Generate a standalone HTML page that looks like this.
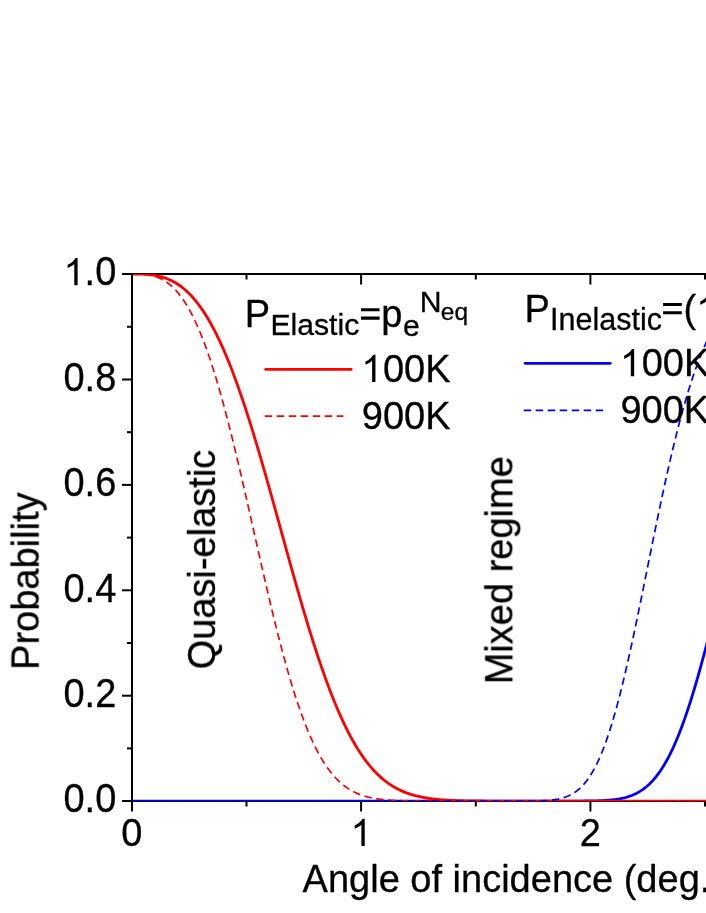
<!DOCTYPE html>
<html><head><meta charset="utf-8"><title>chart</title><style>html,body{margin:0;padding:0;background:#fff;overflow:hidden}</style></head><body><svg width="706" height="913" viewBox="0 0 706 913" style="display:block">
<rect width="706" height="913" fill="#fff"/>
<g stroke="#000" stroke-width="2" fill="none" stroke-linecap="butt">
<path d="M132,273 V811.5"/>
<path d="M122,274 H706"/>
<path d="M122,801 H706"/>
<path d="M122,379.5 H132"/>
<path d="M122,484.9 H132"/>
<path d="M122,590.3 H132"/>
<path d="M122,695.7 H132"/>
<path d="M127,326.8 H132"/>
<path d="M127,432.2 H132"/>
<path d="M127,537.6 H132"/>
<path d="M127,643.0 H132"/>
<path d="M127,748.4 H132"/>
<path d="M361.1,801 V811.5"/>
<path d="M361.1,274 V284.5"/>
<path d="M590.4,801 V811.5"/>
<path d="M590.4,274 V284.5"/>
<path d="M246.5,801 V806.5"/>
<path d="M246.5,274 V279.5"/>
<path d="M475.8,801 V806.5"/>
<path d="M475.8,274 V279.5"/>
<path d="M705.0,801 V806.5"/>
<path d="M705.0,274 V279.5"/>
</g>
<clipPath id="cp"><rect x="132.9" y="273.9" width="600" height="527.4"/></clipPath>
<g fill="none" stroke-linejoin="round" stroke-linecap="butt" clip-path="url(#cp)">
<path d="M131.90,801.10 L133.06,801.10 L134.21,801.10 L135.37,801.10 L136.52,801.10 L137.68,801.10 L138.83,801.10 L139.99,801.10 L141.14,801.10 L142.30,801.10 L143.45,801.10 L144.61,801.10 L145.77,801.10 L146.92,801.10 L148.08,801.10 L149.23,801.10 L150.39,801.10 L151.54,801.10 L152.70,801.10 L153.85,801.10 L155.01,801.10 L156.16,801.10 L157.32,801.10 L158.47,801.10 L159.63,801.10 L160.79,801.10 L161.94,801.10 L163.10,801.10 L164.25,801.10 L165.41,801.10 L166.56,801.10 L167.72,801.10 L168.87,801.10 L170.03,801.10 L171.18,801.10 L172.34,801.10 L173.50,801.10 L174.65,801.10 L175.81,801.10 L176.96,801.10 L178.12,801.10 L179.27,801.10 L180.43,801.10 L181.58,801.10 L182.74,801.10 L183.89,801.10 L185.05,801.10 L186.20,801.10 L187.36,801.10 L188.52,801.10 L189.67,801.10 L190.83,801.10 L191.98,801.10 L193.14,801.10 L194.29,801.10 L195.45,801.10 L196.60,801.10 L197.76,801.10 L198.91,801.10 L200.07,801.10 L201.23,801.10 L202.38,801.10 L203.54,801.10 L204.69,801.10 L205.85,801.10 L207.00,801.10 L208.16,801.10 L209.31,801.10 L210.47,801.10 L211.62,801.10 L212.78,801.10 L213.93,801.10 L215.09,801.10 L216.25,801.10 L217.40,801.10 L218.56,801.10 L219.71,801.10 L220.87,801.10 L222.02,801.10 L223.18,801.10 L224.33,801.10 L225.49,801.10 L226.64,801.10 L227.80,801.10 L228.96,801.10 L230.11,801.10 L231.27,801.10 L232.42,801.10 L233.58,801.10 L234.73,801.10 L235.89,801.10 L237.04,801.10 L238.20,801.10 L239.35,801.10 L240.51,801.10 L241.66,801.10 L242.82,801.10 L243.98,801.10 L245.13,801.10 L246.29,801.10 L247.44,801.10 L248.60,801.10 L249.75,801.10 L250.91,801.10 L252.06,801.10 L253.22,801.10 L254.37,801.10 L255.53,801.10 L256.69,801.10 L257.84,801.10 L259.00,801.10 L260.15,801.10 L261.31,801.10 L262.46,801.10 L263.62,801.10 L264.77,801.10 L265.93,801.10 L267.08,801.10 L268.24,801.10 L269.39,801.10 L270.55,801.10 L271.71,801.10 L272.86,801.10 L274.02,801.10 L275.17,801.10 L276.33,801.10 L277.48,801.10 L278.64,801.10 L279.79,801.10 L280.95,801.10 L282.10,801.10 L283.26,801.10 L284.42,801.10 L285.57,801.10 L286.73,801.10 L287.88,801.10 L289.04,801.10 L290.19,801.10 L291.35,801.10 L292.50,801.10 L293.66,801.10 L294.81,801.10 L295.97,801.10 L297.13,801.10 L298.28,801.10 L299.44,801.10 L300.59,801.10 L301.75,801.10 L302.90,801.10 L304.06,801.10 L305.21,801.10 L306.37,801.10 L307.52,801.10 L308.68,801.10 L309.83,801.10 L310.99,801.10 L312.15,801.10 L313.30,801.10 L314.46,801.10 L315.61,801.10 L316.77,801.10 L317.92,801.10 L319.08,801.10 L320.23,801.10 L321.39,801.10 L322.54,801.10 L323.70,801.10 L324.86,801.10 L326.01,801.10 L327.17,801.10 L328.32,801.10 L329.48,801.10 L330.63,801.10 L331.79,801.10 L332.94,801.10 L334.10,801.10 L335.25,801.10 L336.41,801.10 L337.56,801.10 L338.72,801.10 L339.88,801.10 L341.03,801.10 L342.19,801.10 L343.34,801.10 L344.50,801.10 L345.65,801.10 L346.81,801.10 L347.96,801.10 L349.12,801.10 L350.27,801.10 L351.43,801.10 L352.59,801.10 L353.74,801.10 L354.90,801.10 L356.05,801.10 L357.21,801.10 L358.36,801.10 L359.52,801.10 L360.67,801.10 L361.83,801.10 L362.98,801.10 L364.14,801.10 L365.29,801.10 L366.45,801.10 L367.61,801.10 L368.76,801.10 L369.92,801.10 L371.07,801.10 L372.23,801.10 L373.38,801.10 L374.54,801.10 L375.69,801.10 L376.85,801.10 L378.00,801.10 L379.16,801.10 L380.32,801.10 L381.47,801.10 L382.63,801.10 L383.78,801.10 L384.94,801.10 L386.09,801.10 L387.25,801.10 L388.40,801.10 L389.56,801.10 L390.71,801.10 L391.87,801.10 L393.02,801.10 L394.18,801.10 L395.34,801.10 L396.49,801.10 L397.65,801.10 L398.80,801.10 L399.96,801.10 L401.11,801.10 L402.27,801.10 L403.42,801.10 L404.58,801.10 L405.73,801.10 L406.89,801.10 L408.05,801.10 L409.20,801.10 L410.36,801.10 L411.51,801.10 L412.67,801.10 L413.82,801.10 L414.98,801.10 L416.13,801.10 L417.29,801.10 L418.44,801.10 L419.60,801.10 L420.75,801.10 L421.91,801.10 L423.07,801.10 L424.22,801.10 L425.38,801.10 L426.53,801.10 L427.69,801.10 L428.84,801.10 L430.00,801.10 L431.15,801.10 L432.31,801.10 L433.46,801.10 L434.62,801.10 L435.78,801.10 L436.93,801.10 L438.09,801.10 L439.24,801.10 L440.40,801.10 L441.55,801.10 L442.71,801.10 L443.86,801.10 L445.02,801.10 L446.17,801.10 L447.33,801.10 L448.49,801.10 L449.64,801.10 L450.80,801.10 L451.95,801.10 L453.11,801.10 L454.26,801.10 L455.42,801.10 L456.57,801.10 L457.73,801.10 L458.88,801.10 L460.04,801.10 L461.19,801.10 L462.35,801.10 L463.51,801.10 L464.66,801.10 L465.82,801.10 L466.97,801.10 L468.13,801.10 L469.28,801.10 L470.44,801.10 L471.59,801.10 L472.75,801.10 L473.90,801.10 L475.06,801.10 L476.22,801.10 L477.37,801.10 L478.53,801.10 L479.68,801.10 L480.84,801.10 L481.99,801.10 L483.15,801.10 L484.30,801.10 L485.46,801.10 L486.61,801.10 L487.77,801.10 L488.92,801.10 L490.08,801.10 L491.24,801.10 L492.39,801.10 L493.55,801.10 L494.70,801.10 L495.86,801.10 L497.01,801.10 L498.17,801.10 L499.32,801.10 L500.48,801.10 L501.63,801.10 L502.79,801.10 L503.95,801.10 L505.10,801.10 L506.26,801.10 L507.41,801.10 L508.57,801.10 L509.72,801.10 L510.88,801.10 L512.03,801.10 L513.19,801.10 L514.34,801.10 L515.50,801.10 L516.65,801.10 L517.81,801.10 L518.97,801.10 L520.12,801.10 L521.28,801.10 L522.43,801.10 L523.59,801.10 L524.74,801.10 L525.90,801.10 L527.05,801.10 L528.21,801.10 L529.36,801.10 L530.52,801.10 L531.68,801.10 L532.83,801.10 L533.99,801.10 L535.14,801.10 L536.30,801.10 L537.45,801.10 L538.61,801.10 L539.76,801.10 L540.92,801.10 L542.07,801.10 L543.23,801.10 L544.38,801.10 L545.54,801.10 L546.70,801.10 L547.85,801.10 L549.01,801.10 L550.16,801.10 L551.32,801.10 L552.47,801.10 L553.63,801.10 L554.78,801.10 L555.94,801.10 L557.09,801.10 L558.25,801.10 L559.41,801.10 L560.56,801.10 L561.72,801.10 L562.87,801.10 L564.03,801.10 L565.18,801.09 L566.34,801.09 L567.49,801.09 L568.65,801.09 L569.80,801.09 L570.96,801.09 L572.12,801.08 L573.27,801.08 L574.43,801.08 L575.58,801.08 L576.74,801.07 L577.89,801.07 L579.05,801.06 L580.20,801.06 L581.36,801.05 L582.51,801.04 L583.67,801.03 L584.82,801.02 L585.98,801.01 L587.14,801.00 L588.29,800.99 L589.45,800.97 L590.60,800.95 L591.76,800.94 L592.91,800.91 L594.07,800.89 L595.22,800.86 L596.38,800.83 L597.53,800.80 L598.69,800.76 L599.85,800.72 L601.00,800.67 L602.16,800.62 L603.31,800.56 L604.47,800.50 L605.62,800.43 L606.78,800.35 L607.93,800.27 L609.09,800.17 L610.24,800.07 L611.40,799.96 L612.55,799.84 L613.71,799.71 L614.87,799.56 L616.02,799.40 L617.18,799.23 L618.33,799.05 L619.49,798.85 L620.64,798.63 L621.80,798.39 L622.95,798.14 L624.11,797.86 L625.26,797.57 L626.42,797.25 L627.58,796.91 L628.73,796.54 L629.89,796.14 L631.04,795.72 L632.20,795.27 L633.35,794.79 L634.51,794.27 L635.66,793.73 L636.82,793.14 L637.97,792.52 L639.13,791.86 L640.28,791.16 L641.44,790.42 L642.60,789.63 L643.75,788.80 L644.91,787.92 L646.06,787.00 L647.22,786.02 L648.37,784.99 L649.53,783.91 L650.68,782.77 L651.84,781.58 L652.99,780.33 L654.15,779.01 L655.31,777.64 L656.46,776.20 L657.62,774.70 L658.77,773.13 L659.93,771.50 L661.08,769.80 L662.24,768.03 L663.39,766.18 L664.55,764.27 L665.70,762.28 L666.86,760.22 L668.01,758.09 L669.17,755.88 L670.33,753.59 L671.48,751.23 L672.64,748.79 L673.79,746.27 L674.95,743.68 L676.10,741.01 L677.26,738.26 L678.41,735.43 L679.57,732.53 L680.72,729.55 L681.88,726.49 L683.04,723.36 L684.19,720.15 L685.35,716.86 L686.50,713.50 L687.66,710.07 L688.81,706.57 L689.97,702.99 L691.12,699.35 L692.28,695.63 L693.43,691.85 L694.59,688.01 L695.74,684.10 L696.90,680.13 L698.06,676.09 L699.21,672.00 L700.37,667.86 L701.52,663.66 L702.68,659.40 L703.83,655.10 L704.99,650.75 L706.14,646.35 L707.30,641.91 L708.45,637.43 L709.61,632.91" stroke="#0000ff" stroke-width="2.8"/>
<path d="M131.90,274.10 L133.06,274.10 L134.21,274.10 L135.37,274.10 L136.52,274.11 L137.68,274.12 L138.83,274.14 L139.99,274.16 L141.14,274.18 L142.30,274.22 L143.45,274.26 L144.61,274.32 L145.77,274.38 L146.92,274.46 L148.08,274.55 L149.23,274.65 L150.39,274.77 L151.54,274.90 L152.70,275.05 L153.85,275.22 L155.01,275.40 L156.16,275.61 L157.32,275.84 L158.47,276.08 L159.63,276.35 L160.79,276.64 L161.94,276.96 L163.10,277.30 L164.25,277.67 L165.41,278.07 L166.56,278.49 L167.72,278.94 L168.87,279.42 L170.03,279.94 L171.18,280.48 L172.34,281.05 L173.50,281.66 L174.65,282.31 L175.81,282.98 L176.96,283.70 L178.12,284.45 L179.27,285.23 L180.43,286.06 L181.58,286.92 L182.74,287.83 L183.89,288.77 L185.05,289.76 L186.20,290.78 L187.36,291.85 L188.52,292.96 L189.67,294.12 L190.83,295.32 L191.98,296.56 L193.14,297.86 L194.29,299.19 L195.45,300.58 L196.60,302.01 L197.76,303.49 L198.91,305.01 L200.07,306.59 L201.23,308.21 L202.38,309.89 L203.54,311.61 L204.69,313.38 L205.85,315.21 L207.00,317.08 L208.16,319.01 L209.31,320.99 L210.47,323.02 L211.62,325.10 L212.78,327.23 L213.93,329.41 L215.09,331.65 L216.25,333.94 L217.40,336.28 L218.56,338.67 L219.71,341.11 L220.87,343.61 L222.02,346.16 L223.18,348.75 L224.33,351.40 L225.49,354.10 L226.64,356.85 L227.80,359.66 L228.96,362.51 L230.11,365.41 L231.27,368.36 L232.42,371.36 L233.58,374.41 L234.73,377.50 L235.89,380.64 L237.04,383.83 L238.20,387.07 L239.35,390.35 L240.51,393.67 L241.66,397.04 L242.82,400.45 L243.98,403.90 L245.13,407.39 L246.29,410.93 L247.44,414.50 L248.60,418.12 L249.75,421.77 L250.91,425.45 L252.06,429.17 L253.22,432.93 L254.37,436.72 L255.53,440.54 L256.69,444.39 L257.84,448.27 L259.00,452.18 L260.15,456.12 L261.31,460.08 L262.46,464.07 L263.62,468.08 L264.77,472.12 L265.93,476.17 L267.08,480.24 L268.24,484.34 L269.39,488.44 L270.55,492.57 L271.71,496.70 L272.86,500.85 L274.02,505.01 L275.17,509.18 L276.33,513.35 L277.48,517.53 L278.64,521.72 L279.79,525.91 L280.95,530.10 L282.10,534.29 L283.26,538.48 L284.42,542.67 L285.57,546.85 L286.73,551.03 L287.88,555.20 L289.04,559.36 L290.19,563.51 L291.35,567.65 L292.50,571.77 L293.66,575.88 L294.81,579.98 L295.97,584.06 L297.13,588.11 L298.28,592.15 L299.44,596.17 L300.59,600.16 L301.75,604.13 L302.90,608.07 L304.06,611.99 L305.21,615.88 L306.37,619.74 L307.52,623.56 L308.68,627.36 L309.83,631.12 L310.99,634.85 L312.15,638.55 L313.30,642.21 L314.46,645.83 L315.61,649.41 L316.77,652.96 L317.92,656.46 L319.08,659.93 L320.23,663.35 L321.39,666.73 L322.54,670.07 L323.70,673.36 L324.86,676.61 L326.01,679.81 L327.17,682.97 L328.32,686.08 L329.48,689.15 L330.63,692.17 L331.79,695.14 L332.94,698.06 L334.10,700.94 L335.25,703.77 L336.41,706.54 L337.56,709.27 L338.72,711.95 L339.88,714.58 L341.03,717.16 L342.19,719.69 L343.34,722.18 L344.50,724.61 L345.65,726.99 L346.81,729.32 L347.96,731.61 L349.12,733.84 L350.27,736.03 L351.43,738.16 L352.59,740.25 L353.74,742.29 L354.90,744.28 L356.05,746.22 L357.21,748.12 L358.36,749.97 L359.52,751.77 L360.67,753.53 L361.83,755.24 L362.98,756.90 L364.14,758.52 L365.29,760.10 L366.45,761.63 L367.61,763.12 L368.76,764.57 L369.92,765.98 L371.07,767.34 L372.23,768.67 L373.38,769.95 L374.54,771.20 L375.69,772.40 L376.85,773.57 L378.00,774.70 L379.16,775.80 L380.32,776.86 L381.47,777.88 L382.63,778.87 L383.78,779.83 L384.94,780.75 L386.09,781.64 L387.25,782.50 L388.40,783.33 L389.56,784.13 L390.71,784.90 L391.87,785.64 L393.02,786.35 L394.18,787.04 L395.34,787.70 L396.49,788.34 L397.65,788.95 L398.80,789.53 L399.96,790.09 L401.11,790.63 L402.27,791.15 L403.42,791.65 L404.58,792.12 L405.73,792.58 L406.89,793.01 L408.05,793.43 L409.20,793.83 L410.36,794.21 L411.51,794.57 L412.67,794.92 L413.82,795.25 L414.98,795.57 L416.13,795.87 L417.29,796.15 L418.44,796.43 L419.60,796.69 L420.75,796.94 L421.91,797.17 L423.07,797.40 L424.22,797.61 L425.38,797.81 L426.53,798.00 L427.69,798.19 L428.84,798.36 L430.00,798.52 L431.15,798.68 L432.31,798.83 L433.46,798.96 L434.62,799.10 L435.78,799.22 L436.93,799.34 L438.09,799.45 L439.24,799.55 L440.40,799.65 L441.55,799.75 L442.71,799.83 L443.86,799.92 L445.02,799.99 L446.17,800.07 L447.33,800.14 L448.49,800.20 L449.64,800.26 L450.80,800.32 L451.95,800.37 L453.11,800.42 L454.26,800.47 L455.42,800.51 L456.57,800.56 L457.73,800.59 L458.88,800.63 L460.04,800.66 L461.19,800.70 L462.35,800.72 L463.51,800.75 L464.66,800.78 L465.82,800.80 L466.97,800.82 L468.13,800.85 L469.28,800.86 L470.44,800.88 L471.59,800.90 L472.75,800.91 L473.90,800.93 L475.06,800.94 L476.22,800.96 L477.37,800.97 L478.53,800.98 L479.68,800.99 L480.84,801.00 L481.99,801.00 L483.15,801.01 L484.30,801.02 L485.46,801.03 L486.61,801.03 L487.77,801.04 L488.92,801.04 L490.08,801.05 L491.24,801.05 L492.39,801.06 L493.55,801.06 L494.70,801.06 L495.86,801.07 L497.01,801.07 L498.17,801.07 L499.32,801.08 L500.48,801.08 L501.63,801.08 L502.79,801.08 L503.95,801.08 L505.10,801.08 L506.26,801.09 L507.41,801.09 L508.57,801.09 L509.72,801.09 L510.88,801.09 L512.03,801.09 L513.19,801.09 L514.34,801.09 L515.50,801.09 L516.65,801.09 L517.81,801.09 L518.97,801.10 L520.12,801.10 L521.28,801.10 L522.43,801.10 L523.59,801.10 L524.74,801.10 L525.90,801.10 L527.05,801.10 L528.21,801.10 L529.36,801.10 L530.52,801.10 L531.68,801.10 L532.83,801.10 L533.99,801.10 L535.14,801.10 L536.30,801.10 L537.45,801.10 L538.61,801.10 L539.76,801.10 L540.92,801.10 L542.07,801.10 L543.23,801.10 L544.38,801.10 L545.54,801.10 L546.70,801.10 L547.85,801.10 L549.01,801.10 L550.16,801.10 L551.32,801.10 L552.47,801.10 L553.63,801.10 L554.78,801.10 L555.94,801.10 L557.09,801.10 L558.25,801.10 L559.41,801.10 L560.56,801.10 L561.72,801.10 L562.87,801.10 L564.03,801.10 L565.18,801.10 L566.34,801.10 L567.49,801.10 L568.65,801.10 L569.80,801.10 L570.96,801.10 L572.12,801.10 L573.27,801.10 L574.43,801.10 L575.58,801.10 L576.74,801.10 L577.89,801.10 L579.05,801.10 L580.20,801.10 L581.36,801.10 L582.51,801.10 L583.67,801.10 L584.82,801.10 L585.98,801.10 L587.14,801.10 L588.29,801.10 L589.45,801.10 L590.60,801.10 L591.76,801.10 L592.91,801.10 L594.07,801.10 L595.22,801.10 L596.38,801.10 L597.53,801.10 L598.69,801.10 L599.85,801.10 L601.00,801.10 L602.16,801.10 L603.31,801.10 L604.47,801.10 L605.62,801.10 L606.78,801.10 L607.93,801.10 L609.09,801.10 L610.24,801.10 L611.40,801.10 L612.55,801.10 L613.71,801.10 L614.87,801.10 L616.02,801.10 L617.18,801.10 L618.33,801.10 L619.49,801.10 L620.64,801.10 L621.80,801.10 L622.95,801.10 L624.11,801.10 L625.26,801.10 L626.42,801.10 L627.58,801.10 L628.73,801.10 L629.89,801.10 L631.04,801.10 L632.20,801.10 L633.35,801.10 L634.51,801.10 L635.66,801.10 L636.82,801.10 L637.97,801.10 L639.13,801.10 L640.28,801.10 L641.44,801.10 L642.60,801.10 L643.75,801.10 L644.91,801.10 L646.06,801.10 L647.22,801.10 L648.37,801.10 L649.53,801.10 L650.68,801.10 L651.84,801.10 L652.99,801.10 L654.15,801.10 L655.31,801.10 L656.46,801.10 L657.62,801.10 L658.77,801.10 L659.93,801.10 L661.08,801.10 L662.24,801.10 L663.39,801.10 L664.55,801.10 L665.70,801.10 L666.86,801.10 L668.01,801.10 L669.17,801.10 L670.33,801.10 L671.48,801.10 L672.64,801.10 L673.79,801.10 L674.95,801.10 L676.10,801.10 L677.26,801.10 L678.41,801.10 L679.57,801.10 L680.72,801.10 L681.88,801.10 L683.04,801.10 L684.19,801.10 L685.35,801.10 L686.50,801.10 L687.66,801.10 L688.81,801.10 L689.97,801.10 L691.12,801.10 L692.28,801.10 L693.43,801.10 L694.59,801.10 L695.74,801.10 L696.90,801.10 L698.06,801.10 L699.21,801.10 L700.37,801.10 L701.52,801.10 L702.68,801.10 L703.83,801.10 L704.99,801.10 L706.14,801.10 L707.30,801.10 L708.45,801.10 L709.61,801.10" stroke="#ff0000" stroke-width="2.8"/>
<path d="M131.90,274.10 L133.06,274.10 L134.21,274.10 L135.37,274.11 L136.52,274.12 L137.68,274.14 L138.83,274.16 L139.99,274.20 L141.14,274.25 L142.30,274.32 L143.45,274.40 L144.61,274.50 L145.77,274.62 L146.92,274.76 L148.08,274.92 L149.23,275.11 L150.39,275.33 L151.54,275.57 L152.70,275.85 L153.85,276.16 L155.01,276.50 L156.16,276.87 L157.32,277.29 L158.47,277.74 L159.63,278.23 L160.79,278.77 L161.94,279.35 L163.10,279.98 L164.25,280.65 L165.41,281.37 L166.56,282.14 L167.72,282.97 L168.87,283.85 L170.03,284.78 L171.18,285.77 L172.34,286.82 L173.50,287.92 L174.65,289.09 L175.81,290.32 L176.96,291.61 L178.12,292.97 L179.27,294.39 L180.43,295.88 L181.58,297.44 L182.74,299.06 L183.89,300.76 L185.05,302.53 L186.20,304.37 L187.36,306.28 L188.52,308.26 L189.67,310.32 L190.83,312.46 L191.98,314.67 L193.14,316.96 L194.29,319.32 L195.45,321.76 L196.60,324.27 L197.76,326.87 L198.91,329.54 L200.07,332.29 L201.23,335.12 L202.38,338.03 L203.54,341.01 L204.69,344.07 L205.85,347.21 L207.00,350.43 L208.16,353.72 L209.31,357.09 L210.47,360.53 L211.62,364.05 L212.78,367.64 L213.93,371.31 L215.09,375.05 L216.25,378.86 L217.40,382.74 L218.56,386.69 L219.71,390.71 L220.87,394.79 L222.02,398.94 L223.18,403.16 L224.33,407.43 L225.49,411.77 L226.64,416.16 L227.80,420.61 L228.96,425.12 L230.11,429.68 L231.27,434.29 L232.42,438.95 L233.58,443.66 L234.73,448.42 L235.89,453.21 L237.04,458.05 L238.20,462.92 L239.35,467.83 L240.51,472.77 L241.66,477.75 L242.82,482.75 L243.98,487.77 L245.13,492.82 L246.29,497.89 L247.44,502.98 L248.60,508.08 L249.75,513.20 L250.91,518.32 L252.06,523.45 L253.22,528.59 L254.37,533.72 L255.53,538.85 L256.69,543.98 L257.84,549.10 L259.00,554.22 L260.15,559.31 L261.31,564.40 L262.46,569.46 L263.62,574.51 L264.77,579.53 L265.93,584.52 L267.08,589.49 L268.24,594.42 L269.39,599.32 L270.55,604.19 L271.71,609.02 L272.86,613.80 L274.02,618.55 L275.17,623.24 L276.33,627.89 L277.48,632.49 L278.64,637.04 L279.79,641.54 L280.95,645.98 L282.10,650.36 L283.26,654.68 L284.42,658.95 L285.57,663.15 L286.73,667.29 L287.88,671.36 L289.04,675.37 L290.19,679.31 L291.35,683.18 L292.50,686.99 L293.66,690.72 L294.81,694.38 L295.97,697.97 L297.13,701.49 L298.28,704.94 L299.44,708.31 L300.59,711.60 L301.75,714.83 L302.90,717.98 L304.06,721.05 L305.21,724.05 L306.37,726.98 L307.52,729.83 L308.68,732.61 L309.83,735.31 L310.99,737.94 L312.15,740.50 L313.30,742.98 L314.46,745.39 L315.61,747.73 L316.77,750.01 L317.92,752.21 L319.08,754.34 L320.23,756.40 L321.39,758.40 L322.54,760.33 L323.70,762.19 L324.86,763.99 L326.01,765.73 L327.17,767.41 L328.32,769.02 L329.48,770.58 L330.63,772.07 L331.79,773.51 L332.94,774.89 L334.10,776.22 L335.25,777.50 L336.41,778.72 L337.56,779.90 L338.72,781.02 L339.88,782.10 L341.03,783.12 L342.19,784.11 L343.34,785.05 L344.50,785.95 L345.65,786.80 L346.81,787.62 L347.96,788.40 L349.12,789.14 L350.27,789.84 L351.43,790.51 L352.59,791.15 L353.74,791.75 L354.90,792.33 L356.05,792.87 L357.21,793.39 L358.36,793.87 L359.52,794.34 L360.67,794.77 L361.83,795.18 L362.98,795.57 L364.14,795.94 L365.29,796.29 L366.45,796.61 L367.61,796.92 L368.76,797.21 L369.92,797.48 L371.07,797.73 L372.23,797.97 L373.38,798.20 L374.54,798.41 L375.69,798.60 L376.85,798.79 L378.00,798.96 L379.16,799.12 L380.32,799.27 L381.47,799.41 L382.63,799.54 L383.78,799.66 L384.94,799.77 L386.09,799.88 L387.25,799.97 L388.40,800.07 L389.56,800.15 L390.71,800.23 L391.87,800.30 L393.02,800.37 L394.18,800.43 L395.34,800.48 L396.49,800.54 L397.65,800.59 L398.80,800.63 L399.96,800.67 L401.11,800.71 L402.27,800.74 L403.42,800.78 L404.58,800.81 L405.73,800.83 L406.89,800.86 L408.05,800.88 L409.20,800.90 L410.36,800.92 L411.51,800.94 L412.67,800.95 L413.82,800.97 L414.98,800.98 L416.13,800.99 L417.29,801.00 L418.44,801.01 L419.60,801.02 L420.75,801.03 L421.91,801.04 L423.07,801.04 L424.22,801.05 L425.38,801.05 L426.53,801.06 L427.69,801.06 L428.84,801.07 L430.00,801.07 L431.15,801.07 L432.31,801.08 L433.46,801.08 L434.62,801.08 L435.78,801.08 L436.93,801.09 L438.09,801.09 L439.24,801.09 L440.40,801.09 L441.55,801.09 L442.71,801.09 L443.86,801.09 L445.02,801.09 L446.17,801.09 L447.33,801.10 L448.49,801.10 L449.64,801.10 L450.80,801.10 L451.95,801.10 L453.11,801.10 L454.26,801.10 L455.42,801.10 L456.57,801.10 L457.73,801.10 L458.88,801.10 L460.04,801.10 L461.19,801.10 L462.35,801.10 L463.51,801.10 L464.66,801.10 L465.82,801.10 L466.97,801.10 L468.13,801.10 L469.28,801.10 L470.44,801.10 L471.59,801.10 L472.75,801.10 L473.90,801.10 L475.06,801.10 L476.22,801.10 L477.37,801.10 L478.53,801.10 L479.68,801.10 L480.84,801.10 L481.99,801.10 L483.15,801.10 L484.30,801.10 L485.46,801.10 L486.61,801.10 L487.77,801.10 L488.92,801.10 L490.08,801.10 L491.24,801.10 L492.39,801.10 L493.55,801.10 L494.70,801.10 L495.86,801.10 L497.01,801.10 L498.17,801.10 L499.32,801.10 L500.48,801.10 L501.63,801.10 L502.79,801.10 L503.95,801.10 L505.10,801.10 L506.26,801.10 L507.41,801.10 L508.57,801.10 L509.72,801.10 L510.88,801.10 L512.03,801.10 L513.19,801.10 L514.34,801.10 L515.50,801.10 L516.65,801.10 L517.81,801.10 L518.97,801.10 L520.12,801.10 L521.28,801.10 L522.43,801.10 L523.59,801.10 L524.74,801.10 L525.90,801.10 L527.05,801.10 L528.21,801.10 L529.36,801.10 L530.52,801.10 L531.68,801.10 L532.83,801.10 L533.99,801.10 L535.14,801.10 L536.30,801.10 L537.45,801.10 L538.61,801.10 L539.76,801.10 L540.92,801.10 L542.07,801.10 L543.23,801.10 L544.38,801.10 L545.54,801.10 L546.70,801.10 L547.85,801.10 L549.01,801.10 L550.16,801.10 L551.32,801.10 L552.47,801.10 L553.63,801.10 L554.78,801.10 L555.94,801.10 L557.09,801.10 L558.25,801.10 L559.41,801.10 L560.56,801.10 L561.72,801.10 L562.87,801.10 L564.03,801.10 L565.18,801.10 L566.34,801.10 L567.49,801.10 L568.65,801.10 L569.80,801.10 L570.96,801.10 L572.12,801.10 L573.27,801.10 L574.43,801.10 L575.58,801.10 L576.74,801.10 L577.89,801.10 L579.05,801.10 L580.20,801.10 L581.36,801.10 L582.51,801.10 L583.67,801.10 L584.82,801.10 L585.98,801.10 L587.14,801.10 L588.29,801.10 L589.45,801.10 L590.60,801.10 L591.76,801.10 L592.91,801.10 L594.07,801.10 L595.22,801.10 L596.38,801.10 L597.53,801.10 L598.69,801.10 L599.85,801.10 L601.00,801.10 L602.16,801.10 L603.31,801.10 L604.47,801.10 L605.62,801.10 L606.78,801.10 L607.93,801.10 L609.09,801.10 L610.24,801.10 L611.40,801.10 L612.55,801.10 L613.71,801.10 L614.87,801.10 L616.02,801.10 L617.18,801.10 L618.33,801.10 L619.49,801.10 L620.64,801.10 L621.80,801.10 L622.95,801.10 L624.11,801.10 L625.26,801.10 L626.42,801.10 L627.58,801.10 L628.73,801.10 L629.89,801.10 L631.04,801.10 L632.20,801.10 L633.35,801.10 L634.51,801.10 L635.66,801.10 L636.82,801.10 L637.97,801.10 L639.13,801.10 L640.28,801.10 L641.44,801.10 L642.60,801.10 L643.75,801.10 L644.91,801.10 L646.06,801.10 L647.22,801.10 L648.37,801.10 L649.53,801.10 L650.68,801.10 L651.84,801.10 L652.99,801.10 L654.15,801.10 L655.31,801.10 L656.46,801.10 L657.62,801.10 L658.77,801.10 L659.93,801.10 L661.08,801.10 L662.24,801.10 L663.39,801.10 L664.55,801.10 L665.70,801.10 L666.86,801.10 L668.01,801.10 L669.17,801.10 L670.33,801.10 L671.48,801.10 L672.64,801.10 L673.79,801.10 L674.95,801.10 L676.10,801.10 L677.26,801.10 L678.41,801.10 L679.57,801.10 L680.72,801.10 L681.88,801.10 L683.04,801.10 L684.19,801.10 L685.35,801.10 L686.50,801.10 L687.66,801.10 L688.81,801.10 L689.97,801.10 L691.12,801.10 L692.28,801.10 L693.43,801.10 L694.59,801.10 L695.74,801.10 L696.90,801.10 L698.06,801.10 L699.21,801.10 L700.37,801.10 L701.52,801.10 L702.68,801.10 L703.83,801.10 L704.99,801.10 L706.14,801.10 L707.30,801.10 L708.45,801.10 L709.61,801.10" stroke="#ff0000" stroke-width="1.7" stroke-dasharray="7.5,4.5"/>
<path d="M131.90,801.10 L133.06,801.10 L134.21,801.10 L135.37,801.10 L136.52,801.10 L137.68,801.10 L138.83,801.10 L139.99,801.10 L141.14,801.10 L142.30,801.10 L143.45,801.10 L144.61,801.10 L145.77,801.10 L146.92,801.10 L148.08,801.10 L149.23,801.10 L150.39,801.10 L151.54,801.10 L152.70,801.10 L153.85,801.10 L155.01,801.10 L156.16,801.10 L157.32,801.10 L158.47,801.10 L159.63,801.10 L160.79,801.10 L161.94,801.10 L163.10,801.10 L164.25,801.10 L165.41,801.10 L166.56,801.10 L167.72,801.10 L168.87,801.10 L170.03,801.10 L171.18,801.10 L172.34,801.10 L173.50,801.10 L174.65,801.10 L175.81,801.10 L176.96,801.10 L178.12,801.10 L179.27,801.10 L180.43,801.10 L181.58,801.10 L182.74,801.10 L183.89,801.10 L185.05,801.10 L186.20,801.10 L187.36,801.10 L188.52,801.10 L189.67,801.10 L190.83,801.10 L191.98,801.10 L193.14,801.10 L194.29,801.10 L195.45,801.10 L196.60,801.10 L197.76,801.10 L198.91,801.10 L200.07,801.10 L201.23,801.10 L202.38,801.10 L203.54,801.10 L204.69,801.10 L205.85,801.10 L207.00,801.10 L208.16,801.10 L209.31,801.10 L210.47,801.10 L211.62,801.10 L212.78,801.10 L213.93,801.10 L215.09,801.10 L216.25,801.10 L217.40,801.10 L218.56,801.10 L219.71,801.10 L220.87,801.10 L222.02,801.10 L223.18,801.10 L224.33,801.10 L225.49,801.10 L226.64,801.10 L227.80,801.10 L228.96,801.10 L230.11,801.10 L231.27,801.10 L232.42,801.10 L233.58,801.10 L234.73,801.10 L235.89,801.10 L237.04,801.10 L238.20,801.10 L239.35,801.10 L240.51,801.10 L241.66,801.10 L242.82,801.10 L243.98,801.10 L245.13,801.10 L246.29,801.10 L247.44,801.10 L248.60,801.10 L249.75,801.10 L250.91,801.10 L252.06,801.10 L253.22,801.10 L254.37,801.10 L255.53,801.10 L256.69,801.10 L257.84,801.10 L259.00,801.10 L260.15,801.10 L261.31,801.10 L262.46,801.10 L263.62,801.10 L264.77,801.10 L265.93,801.10 L267.08,801.10 L268.24,801.10 L269.39,801.10 L270.55,801.10 L271.71,801.10 L272.86,801.10 L274.02,801.10 L275.17,801.10 L276.33,801.10 L277.48,801.10 L278.64,801.10 L279.79,801.10 L280.95,801.10 L282.10,801.10 L283.26,801.10 L284.42,801.10 L285.57,801.10 L286.73,801.10 L287.88,801.10 L289.04,801.10 L290.19,801.10 L291.35,801.10 L292.50,801.10 L293.66,801.10 L294.81,801.10 L295.97,801.10 L297.13,801.10 L298.28,801.10 L299.44,801.10 L300.59,801.10 L301.75,801.10 L302.90,801.10 L304.06,801.10 L305.21,801.10 L306.37,801.10 L307.52,801.10 L308.68,801.10 L309.83,801.10 L310.99,801.10 L312.15,801.10 L313.30,801.10 L314.46,801.10 L315.61,801.10 L316.77,801.10 L317.92,801.10 L319.08,801.10 L320.23,801.10 L321.39,801.10 L322.54,801.10 L323.70,801.10 L324.86,801.10 L326.01,801.10 L327.17,801.10 L328.32,801.10 L329.48,801.10 L330.63,801.10 L331.79,801.10 L332.94,801.10 L334.10,801.10 L335.25,801.10 L336.41,801.10 L337.56,801.10 L338.72,801.10 L339.88,801.10 L341.03,801.10 L342.19,801.10 L343.34,801.10 L344.50,801.10 L345.65,801.10 L346.81,801.10 L347.96,801.10 L349.12,801.10 L350.27,801.10 L351.43,801.10 L352.59,801.10 L353.74,801.10 L354.90,801.10 L356.05,801.10 L357.21,801.10 L358.36,801.10 L359.52,801.10 L360.67,801.10 L361.83,801.10 L362.98,801.10 L364.14,801.10 L365.29,801.10 L366.45,801.10 L367.61,801.10 L368.76,801.10 L369.92,801.10 L371.07,801.10 L372.23,801.10 L373.38,801.10 L374.54,801.10 L375.69,801.10 L376.85,801.10 L378.00,801.10 L379.16,801.10 L380.32,801.10 L381.47,801.10 L382.63,801.10 L383.78,801.10 L384.94,801.10 L386.09,801.10 L387.25,801.10 L388.40,801.10 L389.56,801.10 L390.71,801.10 L391.87,801.10 L393.02,801.10 L394.18,801.10 L395.34,801.10 L396.49,801.10 L397.65,801.10 L398.80,801.10 L399.96,801.10 L401.11,801.10 L402.27,801.10 L403.42,801.10 L404.58,801.10 L405.73,801.10 L406.89,801.10 L408.05,801.10 L409.20,801.10 L410.36,801.10 L411.51,801.10 L412.67,801.10 L413.82,801.10 L414.98,801.10 L416.13,801.10 L417.29,801.10 L418.44,801.10 L419.60,801.10 L420.75,801.10 L421.91,801.10 L423.07,801.10 L424.22,801.10 L425.38,801.10 L426.53,801.10 L427.69,801.10 L428.84,801.10 L430.00,801.10 L431.15,801.10 L432.31,801.10 L433.46,801.10 L434.62,801.10 L435.78,801.10 L436.93,801.10 L438.09,801.10 L439.24,801.10 L440.40,801.10 L441.55,801.10 L442.71,801.10 L443.86,801.10 L445.02,801.10 L446.17,801.10 L447.33,801.10 L448.49,801.10 L449.64,801.10 L450.80,801.10 L451.95,801.10 L453.11,801.10 L454.26,801.10 L455.42,801.10 L456.57,801.10 L457.73,801.10 L458.88,801.10 L460.04,801.10 L461.19,801.10 L462.35,801.10 L463.51,801.10 L464.66,801.10 L465.82,801.10 L466.97,801.10 L468.13,801.10 L469.28,801.10 L470.44,801.10 L471.59,801.10 L472.75,801.10 L473.90,801.10 L475.06,801.10 L476.22,801.10 L477.37,801.10 L478.53,801.10 L479.68,801.10 L480.84,801.10 L481.99,801.10 L483.15,801.10 L484.30,801.10 L485.46,801.10 L486.61,801.10 L487.77,801.10 L488.92,801.10 L490.08,801.10 L491.24,801.10 L492.39,801.10 L493.55,801.10 L494.70,801.10 L495.86,801.10 L497.01,801.10 L498.17,801.10 L499.32,801.10 L500.48,801.10 L501.63,801.10 L502.79,801.10 L503.95,801.10 L505.10,801.10 L506.26,801.10 L507.41,801.10 L508.57,801.10 L509.72,801.10 L510.88,801.10 L512.03,801.10 L513.19,801.10 L514.34,801.09 L515.50,801.09 L516.65,801.09 L517.81,801.09 L518.97,801.09 L520.12,801.08 L521.28,801.08 L522.43,801.08 L523.59,801.07 L524.74,801.07 L525.90,801.06 L527.05,801.05 L528.21,801.05 L529.36,801.04 L530.52,801.02 L531.68,801.01 L532.83,800.99 L533.99,800.98 L535.14,800.96 L536.30,800.93 L537.45,800.90 L538.61,800.87 L539.76,800.84 L540.92,800.80 L542.07,800.75 L543.23,800.70 L544.38,800.64 L545.54,800.57 L546.70,800.50 L547.85,800.41 L549.01,800.32 L550.16,800.21 L551.32,800.09 L552.47,799.96 L553.63,799.81 L554.78,799.65 L555.94,799.46 L557.09,799.26 L558.25,799.04 L559.41,798.79 L560.56,798.53 L561.72,798.23 L562.87,797.90 L564.03,797.55 L565.18,797.16 L566.34,796.74 L567.49,796.28 L568.65,795.78 L569.80,795.23 L570.96,794.65 L572.12,794.01 L573.27,793.32 L574.43,792.59 L575.58,791.79 L576.74,790.94 L577.89,790.02 L579.05,789.05 L580.20,788.00 L581.36,786.88 L582.51,785.69 L583.67,784.43 L584.82,783.08 L585.98,781.66 L587.14,780.15 L588.29,778.55 L589.45,776.86 L590.60,775.08 L591.76,773.21 L592.91,771.24 L594.07,769.17 L595.22,766.99 L596.38,764.72 L597.53,762.34 L598.69,759.86 L599.85,757.26 L601.00,754.56 L602.16,751.75 L603.31,748.83 L604.47,745.79 L605.62,742.65 L606.78,739.39 L607.93,736.02 L609.09,732.54 L610.24,728.95 L611.40,725.25 L612.55,721.44 L613.71,717.52 L614.87,713.49 L616.02,709.36 L617.18,705.12 L618.33,700.78 L619.49,696.35 L620.64,691.81 L621.80,687.19 L622.95,682.47 L624.11,677.66 L625.26,672.77 L626.42,667.80 L627.58,662.75 L628.73,657.63 L629.89,652.43 L631.04,647.17 L632.20,641.85 L633.35,636.47 L634.51,631.03 L635.66,625.55 L636.82,620.02 L637.97,614.45 L639.13,608.84 L640.28,603.21 L641.44,597.54 L642.60,591.85 L643.75,586.15 L644.91,580.43 L646.06,574.70 L647.22,568.97 L648.37,563.24 L649.53,557.51 L650.68,551.79 L651.84,546.09 L652.99,540.40 L654.15,534.73 L655.31,529.09 L656.46,523.48 L657.62,517.90 L658.77,512.35 L659.93,506.85 L661.08,501.39 L662.24,495.97 L663.39,490.60 L664.55,485.29 L665.70,480.03 L666.86,474.83 L668.01,469.70 L669.17,464.62 L670.33,459.61 L671.48,454.67 L672.64,449.79 L673.79,444.99 L674.95,440.26 L676.10,435.60 L677.26,431.02 L678.41,426.52 L679.57,422.10 L680.72,417.75 L681.88,413.48 L683.04,409.30 L684.19,405.19 L685.35,401.17 L686.50,397.23 L687.66,393.37 L688.81,389.60 L689.97,385.91 L691.12,382.30 L692.28,378.77 L693.43,375.32 L694.59,371.96 L695.74,368.68 L696.90,365.47 L698.06,362.35 L699.21,359.31 L700.37,356.35 L701.52,353.46 L702.68,350.65 L703.83,347.92 L704.99,345.27 L706.14,342.68 L707.30,340.18 L708.45,337.74 L709.61,335.37" stroke="#0000ff" stroke-width="1.7" stroke-dasharray="7.5,4.5"/>
<path d="M265.7,369.4 H351.2" stroke="#ff0000" stroke-linecap="round" stroke-width="2.8"/>
<path d="M264.7,416.1 H343.5" stroke="#ff0000" stroke-width="1.7" stroke-dasharray="7.5,4.5"/>
<path d="M525.2,363.3 H610.2" stroke="#0000ff" stroke-linecap="round" stroke-width="2.8"/>
<path d="M523.7,410.4 H603" stroke="#0000ff" stroke-width="1.7" stroke-dasharray="7.5,4.5"/>
</g>
<g id="txt" opacity="0.999" stroke="#000" stroke-width="0.3" font-family="'Liberation Sans', sans-serif" fill="#000">
<text transform="translate(116.30,390.70) scale(1,1.065)" font-size="38" text-anchor="end">0.8</text>
<text transform="translate(116.30,496.10) scale(1,1.065)" font-size="38" text-anchor="end">0.6</text>
<text transform="translate(116.30,601.50) scale(1,1.065)" font-size="38" text-anchor="end">0.4</text>
<text transform="translate(116.30,706.90) scale(1,1.065)" font-size="38" text-anchor="end">0.2</text>
<text transform="translate(116.30,812.30) scale(1,1.065)" font-size="38" text-anchor="end">0.0</text>
<text transform="translate(116.30,285.30) scale(1,1.065)" font-size="38" text-anchor="end">.0</text>
<path transform="translate(63.47,285.30) scale(0.01855,-0.01855)" d="M763 0H583V1147Q518 1085 412.5 1023T223 930V1104Q374 1175 487 1276T647 1472H763Z"/>
<text transform="translate(131.90,846.00) scale(1,1.040)" font-size="38" text-anchor="middle">0</text>
<text transform="translate(590.40,846.00) scale(1,1.040)" font-size="38" text-anchor="middle">2</text>
<path transform="translate(350.58,846.00) scale(0.01855,-0.01855)" d="M763 0H583V1147Q518 1085 412.5 1023T223 930V1104Q374 1175 487 1276T647 1472H763Z"/>
<text transform="translate(38.60,581.20) rotate(-90)" font-size="38" text-anchor="middle">Probability</text>
<text transform="translate(302.60,892.00)" font-size="38" text-anchor="start">Angle of incidence (deg.)</text>
<text transform="translate(215.00,559.60) rotate(-90)" font-size="38" text-anchor="middle">Quasi-elastic</text>
<text transform="translate(512.30,570.30) rotate(-90)" font-size="38" text-anchor="middle">Mixed regime</text>
<text transform="translate(244.80,327.20)" font-size="38" text-anchor="start">P</text>
<text transform="translate(270.40,335.40)" font-size="30.2" text-anchor="start">Elastic</text>
<path stroke="none" d="M361.00,308.25H379.60V311.35H361.00Z M361.00,316.55H379.60V319.65H361.00Z"/>
<text transform="translate(381.29,327.00)" font-size="38" text-anchor="start">p</text>
<text transform="translate(402.90,336.00)" font-size="30.2" text-anchor="start">e</text>
<text transform="translate(419.80,312.00)" font-size="30.2" text-anchor="start">N</text>
<text transform="translate(440.80,320.30)" font-size="24.5" text-anchor="start">eq</text>
<text transform="translate(382.93,382.10) scale(1,1.040)" font-size="38" text-anchor="start">00K</text>
<path transform="translate(361.30,382.10) scale(0.01855,-0.01855)" d="M763 0H583V1147Q518 1085 412.5 1023T223 930V1104Q374 1175 487 1276T647 1472H763Z"/>
<text transform="translate(361.80,428.90) scale(1,1.040)" font-size="38" text-anchor="start">900K</text>
<text transform="translate(524.50,322.00)" font-size="38" text-anchor="start">P</text>
<text transform="translate(550.10,330.30)" font-size="30.5" text-anchor="start">Inelastic</text>
<path stroke="none" d="M663.10,302.95H681.85V306.05H663.10Z M663.10,311.15H681.85V314.25H663.10Z"/>
<text transform="translate(683.49,322.00)" font-size="38" text-anchor="start">(</text>
<path transform="translate(696.15,322.00) scale(0.01855,-0.01855)" d="M763 0H583V1147Q518 1085 412.5 1023T223 930V1104Q374 1175 487 1276T647 1472H763Z"/>
<text transform="translate(641.63,376.20) scale(1,1.040)" font-size="38" text-anchor="start">00K</text>
<path transform="translate(620.00,376.20) scale(0.01855,-0.01855)" d="M763 0H583V1147Q518 1085 412.5 1023T223 930V1104Q374 1175 487 1276T647 1472H763Z"/>
<text transform="translate(620.50,423.10) scale(1,1.040)" font-size="38" text-anchor="start">900K</text>
</g></svg></body></html>
